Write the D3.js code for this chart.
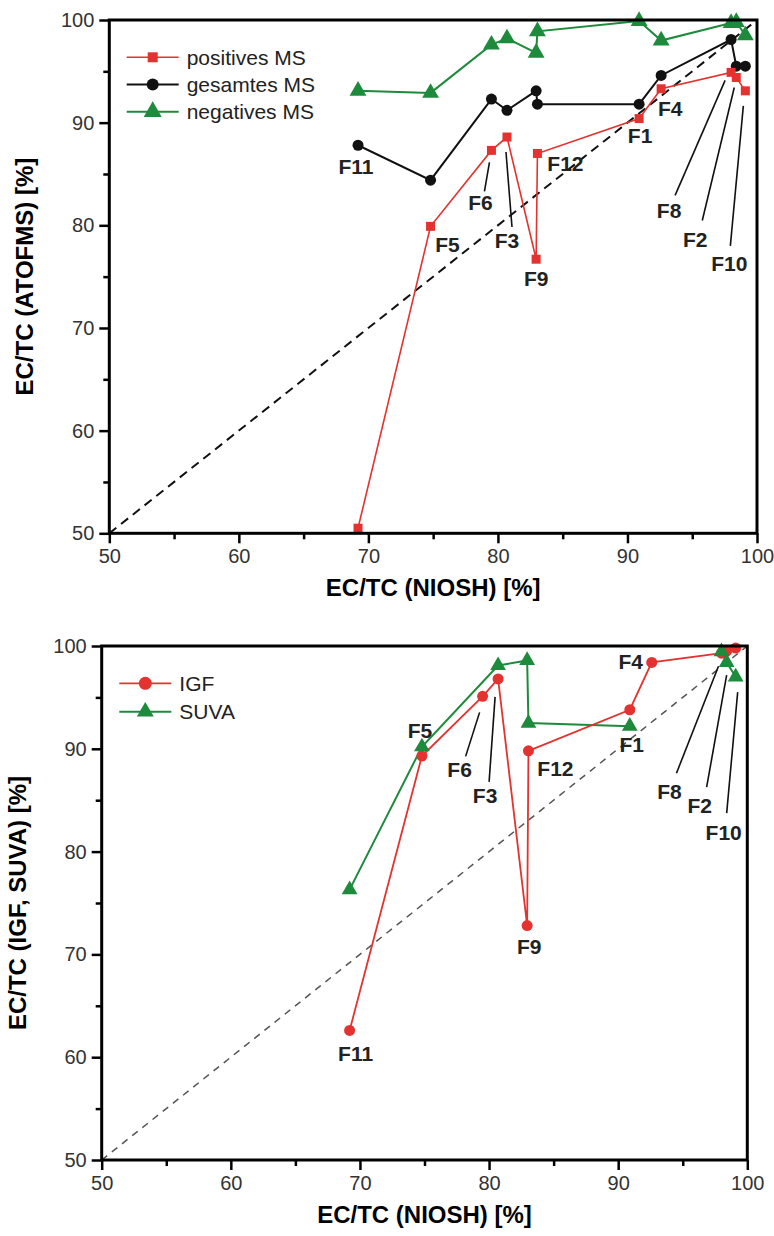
<!DOCTYPE html>
<html>
<head>
<meta charset="utf-8">
<script src="https://cdn.jsdelivr.net/npm/d3@7/dist/d3.min.js"></script>
<style>
  html, body { margin: 0; padding: 0; background: #fff; }
  svg { display: block; }
</style>
</head>
<body>
<svg id="chart" width="774" height="1236"></svg>
<script>
// ---------------- DATA ----------------
const labels = ["F11", "F5", "F6", "F3", "F9", "F12", "F1", "F4", "F8", "F2", "F10"];
const niosh  = [69.2, 74.8, 79.5, 80.7, 82.95, 83.05, 90.9, 92.6, 98.0, 98.4, 99.1];

// top chart: EC/TC (ATOFMS)
const positivesMS = [50.5, 79.9, 87.3, 88.6, 76.7, 87.0, 90.4, 93.3, 94.9, 94.4, 93.1];
const gesamtesMS  = [87.8, 84.4, 92.3, 91.2, 93.1, 91.8, 91.8, 94.6, 98.1, 95.5, 95.5];
const negativesMS = [93.1, 92.9, 97.6, 98.2, 96.8, 98.9, 99.9, 98.0, 99.7, 99.8, 98.5];

// bottom chart: EC/TC (IGF, SUVA)
const igf  = [62.6, 89.3, 95.1, 96.8, 72.8, 89.8, 93.8, 98.4, 99.3, 99.5, 99.8];
const suva = [76.3, 90.2, null, 98.1, 98.6, 92.5, 92.2, null, 99.45, 98.4, 97.0];
const suvaRuns = [["F11", "F5", "F3", "F9", "F12", "F1"], ["F8", "F2", "F10"]];

const axisDomain = [50, 100];
const majorTicks = [50, 60, 70, 80, 90, 100];
const minorTicks = [55, 65, 75, 85, 95];

const topSeriesNames = ["positives MS", "gesamtes MS", "negatives MS"];
const bottomSeriesNames = ["IGF", "SUVA"];

// ---------------- STYLE / LAYOUT ----------------
const RED = "#e3322f", BLACK = "#111111", GREEN = "#1e8a3c";
const svg = d3.select("#chart");
svg.append("rect").attr("width", 774).attr("height", 1236).attr("fill", "#fff");

const panels = {
  top:    { left: 109.3, right: 757, top: 20, bottom: 533.3 },
  bottom: { left: 101.7, right: 747.3, top: 646, bottom: 1160 }
};

function makeScales(p) {
  return {
    x: d3.scaleLinear().domain(axisDomain).range([p.left, p.right]),
    y: d3.scaleLinear().domain(axisDomain).range([p.bottom, p.top])
  };
}

const tickFont = "'Liberation Sans Narrow', 'Arial Narrow', 'Liberation Sans', Arial, sans-serif";
const mainFont = "'Liberation Sans', Arial, sans-serif";

function drawAxes(p, s, xTitle, yTitle) {
  const g = svg.append("g");
  // minor ticks
  g.append("g").attr("transform", `translate(0,${p.bottom})`)
    .call(d3.axisBottom(s.x).tickValues(minorTicks).tickSize(6).tickFormat(""))
    .call(a => a.select(".domain").remove())
    .call(a => a.selectAll("line").attr("stroke", "#000").attr("stroke-width", 2.5));
  g.append("g").attr("transform", `translate(${p.left},0)`)
    .call(d3.axisLeft(s.y).tickValues(minorTicks).tickSize(6).tickFormat(""))
    .call(a => a.select(".domain").remove())
    .call(a => a.selectAll("line").attr("stroke", "#000").attr("stroke-width", 2.5));
  // major ticks
  const xa = g.append("g").attr("transform", `translate(0,${p.bottom})`)
    .call(d3.axisBottom(s.x).tickValues(majorTicks).tickSize(10).tickPadding(6).tickFormat(d3.format("d")));
  xa.select(".domain").remove();
  xa.selectAll("line").attr("stroke", "#000").attr("stroke-width", 2.5);
  xa.selectAll("text").attr("font-family", tickFont).attr("font-size", 20).attr("fill", "#333");
  const ya = g.append("g").attr("transform", `translate(${p.left},0)`)
    .call(d3.axisLeft(s.y).tickValues(majorTicks).tickSize(10).tickPadding(5).tickFormat(d3.format("d")));
  ya.select(".domain").remove();
  ya.selectAll("line").attr("stroke", "#000").attr("stroke-width", 2.5);
  ya.selectAll("text").attr("font-family", tickFont).attr("font-size", 20).attr("fill", "#333");
  // frame
  g.append("rect")
    .attr("x", p.left).attr("y", p.top)
    .attr("width", p.right - p.left).attr("height", p.bottom - p.top)
    .attr("fill", "none").attr("stroke", "#000").attr("stroke-width", 3);
  // titles
  g.append("text")
    .attr("x", (p.left + p.right) / 2).attr("y", p.bottom + 63)
    .attr("text-anchor", "middle")
    .attr("font-family", mainFont).attr("font-weight", "bold").attr("font-size", 24)
    .text(xTitle);
  g.append("text")
    .attr("transform", `translate(${p.left - 76},${(p.top + p.bottom) / 2}) rotate(-90)`)
    .attr("text-anchor", "middle")
    .attr("font-family", mainFont).attr("font-weight", "bold").attr("font-size", 24)
    .text(yTitle);
}

function diag(s, dash, color, width) {
  svg.append("line")
    .attr("x1", s.x(axisDomain[0])).attr("y1", s.y(axisDomain[0]))
    .attr("x2", s.x(axisDomain[1])).attr("y2", s.y(axisDomain[1]))
    .attr("stroke", color).attr("stroke-width", width).attr("stroke-dasharray", dash);
}

function pts(vals) {
  return labels.map((l, i) => ({ label: l, x: niosh[i], y: vals[i] })).filter(d => d.y !== null);
}

function seriesLine(s, data, color, width) {
  svg.append("path").datum(data)
    .attr("fill", "none").attr("stroke", color).attr("stroke-width", width)
    .attr("d", d3.line().x(d => s.x(d.x)).y(d => s.y(d.y)));
}

function marker(g, type, cx, cy, color, size) {
  if (type === "square") {
    g.append("rect").attr("x", cx - size / 2).attr("y", cy - size / 2)
      .attr("width", size).attr("height", size).attr("fill", color);
  } else if (type === "circle") {
    g.append("circle").attr("cx", cx).attr("cy", cy).attr("r", size / 2).attr("fill", color);
  } else {
    const sym = d3.symbol().type(d3.symbolTriangle).size(size * size * 0.55);
    g.append("path").attr("transform", `translate(${cx},${cy})`).attr("d", sym()).attr("fill", color);
  }
}

function seriesMarkers(s, data, type, color, size) {
  const g = svg.append("g");
  data.forEach(d => marker(g, type, s.x(d.x), s.y(d.y), color, size));
}

function annotate(s, vals, ann, fontSize) {
  const g = svg.append("g");
  ann.forEach(a => {
    const i = labels.indexOf(a.label);
    const src = a.anchor || vals;
    const px = s.x(niosh[i]), py = s.y(src[i]);
    if (a.leader) {
      g.append("line")
        .attr("x1", px + a.leader[0]).attr("y1", py + a.leader[1])
        .attr("x2", px + a.leader[2]).attr("y2", py + a.leader[3])
        .attr("stroke", "#111").attr("stroke-width", 1.6);
    }
    g.append("text")
      .attr("x", px + a.dx).attr("y", py + a.dy).attr("dy", "0.36em")
      .attr("text-anchor", "middle")
      .attr("font-family", mainFont).attr("font-weight", "bold").attr("font-size", fontSize)
      .attr("fill", "#222")
      .text(a.label);
  });
}

function legend(x0, y0, rows, fontSize, step) {
  const g = svg.append("g");
  rows.forEach((r, i) => {
    const y = y0 + i * step;
    g.append("line").attr("x1", x0).attr("x2", x0 + 52).attr("y1", y).attr("y2", y)
      .attr("stroke", r.color).attr("stroke-width", r.width);
    marker(g, r.type, x0 + 26, y, r.markerColor || r.color, r.size);
    g.append("text").attr("x", x0 + 60).attr("y", y).attr("dy", "0.35em")
      .attr("font-family", mainFont).attr("font-size", fontSize).attr("fill", "#222")
      .text(r.name);
  });
}

// ---------------- TOP CHART ----------------
const pt = panels.top, st = makeScales(pt);
diag(st, "9,6", "#111", 2);
const posPts = pts(positivesMS), gesPts = pts(gesamtesMS), negPts = pts(negativesMS);
seriesLine(st, negPts, GREEN, 2);
seriesLine(st, gesPts, BLACK, 2);
seriesLine(st, posPts, RED, 1.6);
seriesMarkers(st, negPts, "triangle", GREEN, 15);
seriesMarkers(st, gesPts, "circle", BLACK, 11);
seriesMarkers(st, posPts, "square", RED, 9);
drawAxes(pt, st, "EC/TC (NIOSH) [%]", "EC/TC (ATOFMS) [%]");

annotate(st, positivesMS, [
  { label: "F11", anchor: gesamtesMS, dx: -2, dy: 21 },
  { label: "F5", dx: 17, dy: 18 },
  { label: "F6", dx: -11, dy: 52, leader: [-2, 12, -7, 41] },
  { label: "F3", dx: 0, dy: 103, leader: [-1, 15, 5, 90] },
  { label: "F9", dx: 0, dy: 19 },
  { label: "F12", dx: 28, dy: 10 },
  { label: "F1", dx: 1, dy: 17 },
  { label: "F4", dx: 9, dy: 20 },
  { label: "F8", dx: -62, dy: 138, leader: [-6, 8, -56, 123] },
  { label: "F2", dx: -41, dy: 162, leader: [-2, 10, -34, 143] },
  { label: "F10", dx: -16, dy: 173, leader: [-2, 15, -15, 155] }
], 21);

legend(126.7, 57.3, [
  { name: topSeriesNames[0], color: RED, width: 1.6, type: "square", size: 10 },
  { name: topSeriesNames[1], color: BLACK, width: 2, type: "circle", size: 12 },
  { name: topSeriesNames[2], color: GREEN, width: 2, type: "triangle", size: 16 }
], 21, 27.2);

// ---------------- BOTTOM CHART ----------------
const pb = panels.bottom, sb = makeScales(pb);
diag(sb, "7,6", "#555", 1.5);
const igfPts = pts(igf);
const suvaAll = pts(suva);
suvaRuns.forEach(run => seriesLine(sb, suvaAll.filter(d => run.includes(d.label)), GREEN, 2));
seriesLine(sb, igfPts, RED, 1.8);
seriesMarkers(sb, igfPts, "circle", RED, 11);
seriesMarkers(sb, suvaAll, "triangle", GREEN, 14);
drawAxes(pb, sb, "EC/TC (NIOSH) [%]", "EC/TC (IGF, SUVA) [%]");

annotate(sb, igf, [
  { label: "F11", dx: 6, dy: 23 },
  { label: "F5", dx: -2, dy: -26 },
  { label: "F6", dx: -23, dy: 73, leader: [-3, 16, -17, 60] },
  { label: "F3", dx: -13, dy: 117, leader: [-3, 18, -9, 103] },
  { label: "F9", dx: 2, dy: 21 },
  { label: "F12", dx: 27, dy: 18 },
  { label: "F1", dx: 2, dy: 35 },
  { label: "F4", dx: -21, dy: -1 },
  { label: "F8", dx: -52, dy: 138, leader: [-3, 13, -45, 120] },
  { label: "F2", dx: -27, dy: 154, leader: [0, 24, -20, 136] },
  { label: "F10", dx: -12, dy: 184, leader: [2, 44, -9, 165] }
], 21);

legend(119.3, 683.3, [
  { name: bottomSeriesNames[0], color: RED, width: 1.8, type: "circle", size: 13 },
  { name: bottomSeriesNames[1], color: GREEN, width: 2, type: "triangle", size: 15, markerColor: GREEN }
], 21, 28.4);
</script>
</body>
</html>
